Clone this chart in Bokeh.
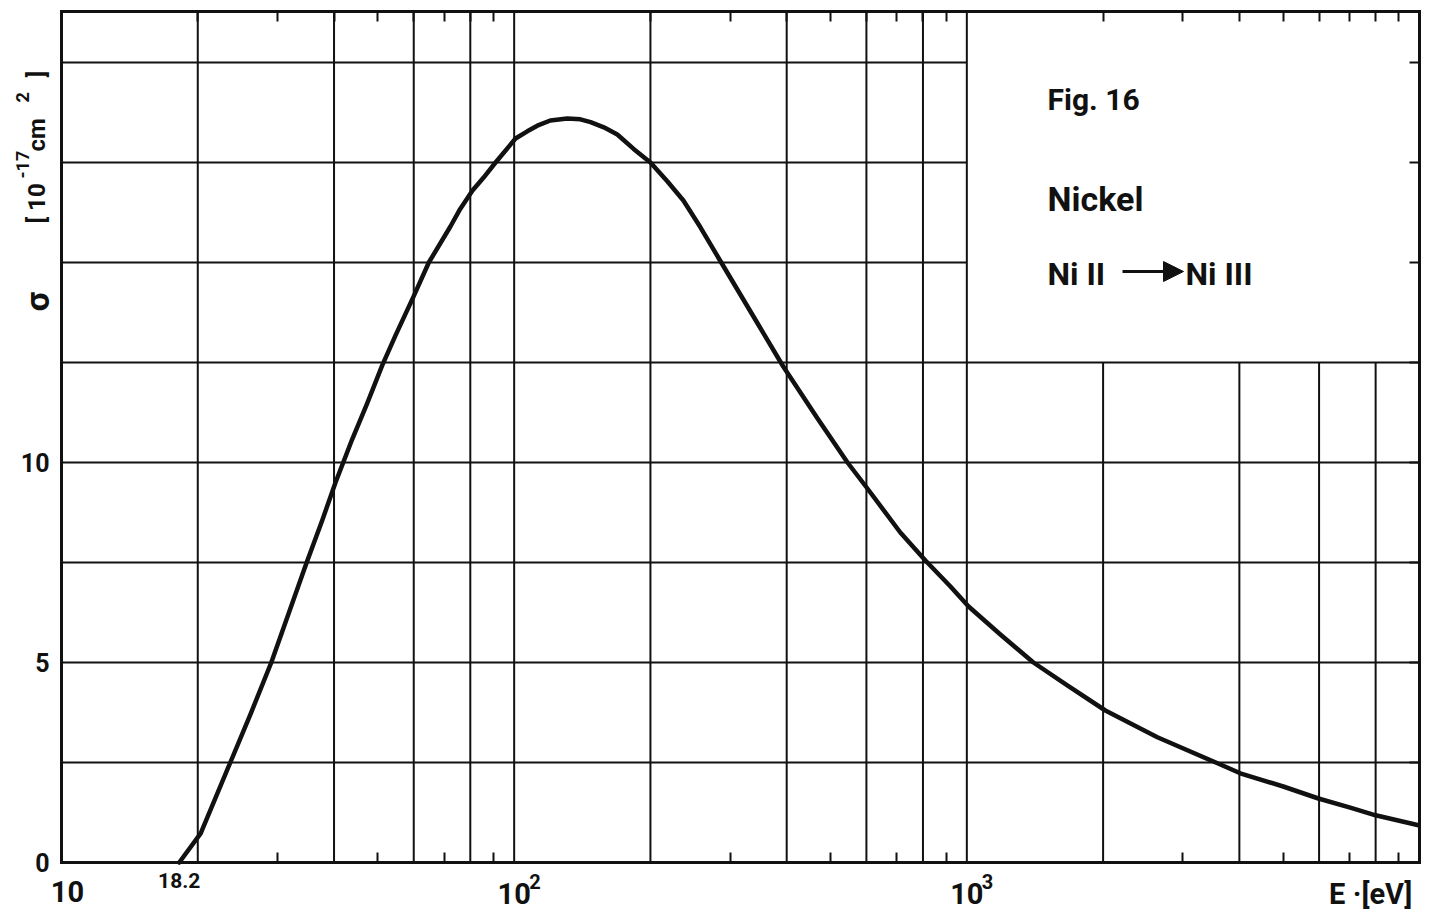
import math
from bokeh.plotting import figure
from bokeh.models import FixedTicker, LogAxis, LinearAxis, Label, Arrow, NormalHead, Range1d
from bokeh.embed import file_html
from bokeh.resources import INLINE

# ---- data (Ni II -> Ni III ionisation cross-section) ----
energy_ev = [18.2, 20.3, 23.6, 26.2, 29.07, 34.77, 37.66, 40.3, 43.87, 47.35, 51.11,
             54.69, 60.0, 64.78, 72.3, 76.0, 80.9, 85.7, 90.96, 100.7, 106.9, 112.5,
             120.2, 131, 140.1, 147.5, 157.8, 169, 183.6, 200, 217.9, 236.5, 257.9,
             285, 344, 393, 468, 545, 603, 713, 810, 920, 1009, 1186, 1403, 1667, 2023,
             2636, 3580, 4018, 5000, 5980, 7030, 8000, 9950]
sigma_1e17 = [0.0, 0.73, 2.5, 3.73, 5.0, 7.49, 8.55, 9.5, 10.58, 11.48, 12.43,
              13.18, 14.16, 15.0, 15.9, 16.34, 16.8, 17.13, 17.5, 18.1, 18.28, 18.42,
              18.55, 18.6, 18.58, 18.51, 18.38, 18.2, 17.84, 17.5, 17.03, 16.55, 15.88,
              15.05, 13.5, 12.4, 11.1, 10.0, 9.35, 8.25, 7.55, 6.9, 6.4, 5.7, 5.0, 4.43,
              3.8, 3.13, 2.48, 2.23, 1.9, 1.6, 1.37, 1.18, 0.93]

grid_e_full = [20, 40, 60, 80, 100, 200, 400, 600, 800, 1000]
grid_e_low = [2000, 4000, 6000, 8000]
grid_s_full = [2.5, 5, 7.5, 10, 12.5]
grid_s_left = [15, 17.5, 20]
ticks_bottom = [30, 50, 70, 90, 300, 500, 700, 900, 3000, 5000, 7000, 9000]
ticks_top = [20, 30, 40, 50, 60, 70, 80, 90, 200, 300, 400, 500, 600, 700, 800, 900,
             2000, 3000, 4000, 5000, 6000, 7000, 8000, 9000]
ticks_right = [2.5, 5, 7.5, 10, 12.5, 15, 17.5, 20]
y_tick_labels = [0, 5, 10]

X0, X1 = 10, 10000          # E range of the plot box
Y0, Y1 = 0, 21.275          # sigma range of the plot box
BOX_X, BOX_Y = 1000, 12.5   # lower-left corner of the caption panel

# ---- layout (pixels) ----
W, H = 1436, 910
PX_L, PX_R = 61, 1419       # x of the box edges
PY_B, PY_T = 862, 11        # y of the box edges
PPD = (PX_R - PX_L) / math.log10(X1 / X0)
PPU = (PY_B - PY_T) / (Y1 - Y0)
LX0 = math.log10(X0) - PX_L / PPD


def e_at(px):
    return 10 ** (LX0 + px / PPD)


def s_at(py):
    return (PY_B - py) / PPU


FONT = "Roboto"
INK = "#111111"

p = figure(x_axis_type="log", width=W, height=H,
           x_range=Range1d(e_at(0), e_at(W)), y_range=Range1d(s_at(H), s_at(0)),
           output_backend="svg", toolbar_location=None,
           min_border_left=0, min_border_right=0, min_border_top=0, min_border_bottom=0)
p.xgrid.visible = False
p.ygrid.visible = False
p.background_fill_color = "white"
p.border_fill_color = "white"
p.outline_line_color = None

# grid (the upper-right caption panel stays free of lines)
vx = grid_e_full + grid_e_low
vtop = [Y1] * len(grid_e_full) + [BOX_Y] * len(grid_e_low)
p.segment(x0=vx, y0=[Y0] * len(vx), x1=vx, y1=vtop, line_color=INK, line_width=2)
hy = grid_s_full + grid_s_left
hright = [X1] * len(grid_s_full) + [BOX_X] * len(grid_s_left)
p.segment(x0=[X0] * len(hy), y0=hy, x1=hright, y1=hy, line_color=INK, line_width=2)

# curve
p.line(energy_ev, sigma_1e17, line_color=INK, line_width=4.5, line_join="round",
       line_cap="round")


def style_axis(ax, minor):
    ax.ticker = FixedTicker(ticks=[], minor_ticks=minor)
    ax.axis_line_color = INK
    ax.axis_line_width = 3
    ax.axis_line_cap = "square"
    ax.major_tick_in = 0
    ax.major_tick_out = 0
    ax.minor_tick_in = 10
    ax.minor_tick_out = 0
    ax.minor_tick_line_color = INK
    ax.minor_tick_line_width = 2
    ax.major_label_standoff = 0


xa = p.xaxis[0]
style_axis(xa, ticks_bottom)
xa.fixed_location = Y0
xa.bounds = (X0, X1)

ta = LogAxis()
style_axis(ta, ticks_top)
ta.fixed_location = Y1
ta.bounds = (X0, X1)
p.add_layout(ta, "above")

ya = p.yaxis[0]
style_axis(ya, [])
ya.fixed_location = X0
ya.bounds = (Y0, Y1)

ra = LinearAxis()
style_axis(ra, ticks_right)
ra.fixed_location = X1
ra.bounds = (Y0, Y1)
p.add_layout(ra, "right")


def lab(text, x, y, size, align="left", angle=0.0, x_offset=0, style="bold"):
    p.add_layout(Label(x=x, y=y, text=text, text_font=FONT, text_font_size=f"{size}px",
                       text_font_style=style, text_color=INK, text_align=align,
                       text_baseline="middle", angle=angle, x_offset=x_offset))


# y tick labels
for v in y_tick_labels:
    lab(str(v), X0, v, 25, align="right", x_offset=-12)

# x-axis texts (y given as the page row of the glyphs' centre)
lab("10", X0, s_at(891), 29, align="center", x_offset=6)
lab("18.2", 18.2, s_at(880), 21, align="center")
lab("10", 100, s_at(893), 29, align="center")
lab("2", 100, s_at(881), 20, x_offset=15)
lab("10", 1000, s_at(893), 29, align="center")
lab("3", 1000, s_at(881), 20, x_offset=15)
lab("E  ·[eV]", X1, s_at(893), 29, align="right")

# rotated y-axis title (reads bottom to top)
R = math.pi / 2
lab("σ", e_at(36), s_at(301), 34, align="center", angle=R)
lab("[ 10", e_at(36), s_at(223), 24, angle=R)
lab("-17", e_at(22), s_at(178), 18, angle=R)
lab("cm", e_at(36), s_at(151), 24, angle=R)
lab("2", e_at(22), s_at(102), 18, angle=R)
lab("]", e_at(36), s_at(77), 24, angle=R)

# caption panel
lab("Fig. 16", e_at(1047), s_at(99), 30)
lab("Nickel", e_at(1047), s_at(198), 34)
lab("Ni II", e_at(1047), s_at(273), 32)
lab("Ni III", e_at(1185), s_at(273), 32)
p.add_layout(Arrow(end=NormalHead(size=20, fill_color=INK, line_color=INK, line_width=1),
                   x_start=e_at(1122), y_start=s_at(271), x_end=e_at(1183), y_end=s_at(271),
                   line_color=INK, line_width=3))

open("out.html", "w").write(file_html(p, INLINE))
